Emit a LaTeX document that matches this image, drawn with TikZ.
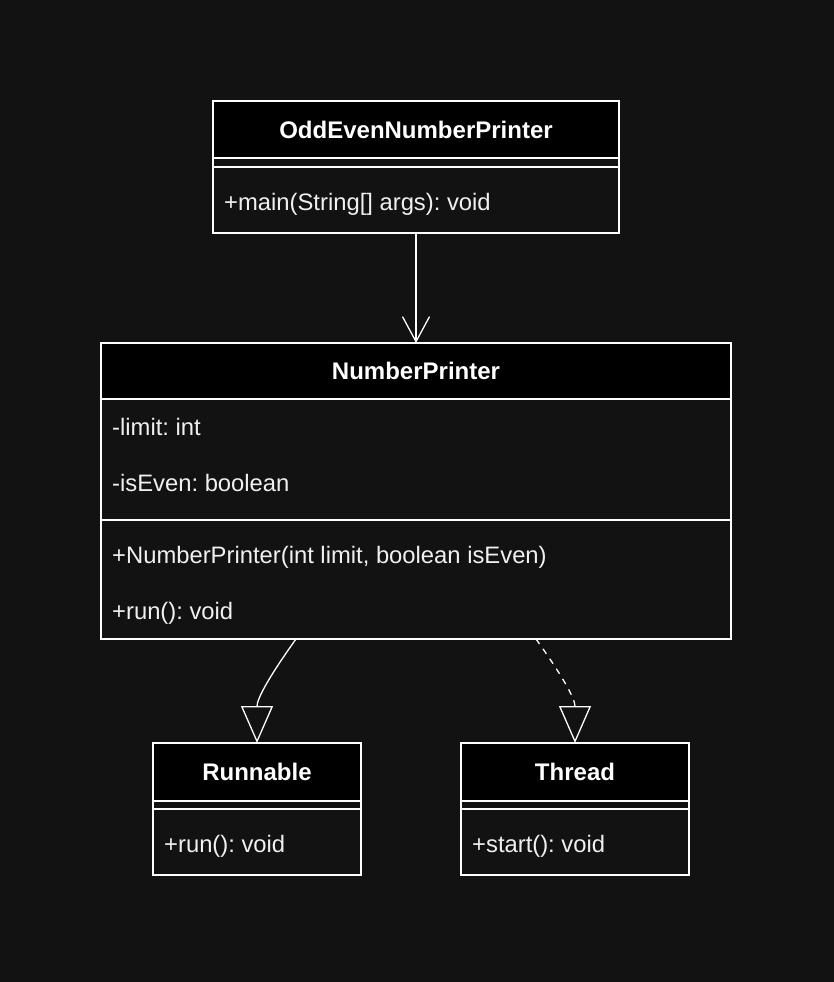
\documentclass[tikz,border=0pt]{standalone}
\usepackage{fontspec}
\setmainfont{Liberation Sans}
\usetikzlibrary{positioning, arrows.meta}
\definecolor{darkbg}{HTML}{121212}
\definecolor{softwhite}{HTML}{F0F0F0}
\tikzstyle{head} = [rectangle, draw=white, line width=1.3pt, fill=black, text=white, 
font=\fontsize{24}{28}\selectfont\bfseries, anchor=north west, inner sep=0pt, outer sep=0pt]
\tikzstyle{part} = [rectangle, draw=white, line width=1.3pt, fill=darkbg, 
anchor=north west, inner sep=0pt, outer sep=0pt]
\tikzstyle{member} = [text=softwhite, font=\fontsize{23.8}{28}\selectfont, inner sep=0pt, anchor=base west]
\tikzstyle{arrow} = [white, line width=1.3pt]

\begin{document}
\frenchspacing
\begin{tikzpicture}[x=1pt, y=-1pt]
                \fill [darkbg] (0,0) rectangle (834,982);
                % OddEvenNumberPrinter
                \node (oe) [head, minimum width=406pt, minimum height=57pt] at (213,101) {OddEvenNumberPrinter};
                \node (oeattr) [part, minimum width=406pt, minimum height=9pt] at (oe.south west) {};
                \node (oeops) [part, minimum width=406pt, minimum height=66pt] at (oeattr.south west) {};
                \node (main) [member, below right=43pt and 11pt of oeops.north west, anchor=base west] {+main(String[] args): void};
                % NumberPrinter
                \node (np) [head, minimum width=630pt, minimum height=56pt, below=110pt of oeops] {NumberPrinter};
                \node (npattr) [part, minimum width=630pt, minimum height=121pt] at (np.south west) {};
                \node (npops) [part, minimum width=630pt, minimum height=119pt] at (npattr.south west) {};
                \node (limit) [member, below right=36pt and 11pt of npattr.north west, anchor=base west] {-limit: int};
                \node (iseven) [member, below right=92pt and 11pt of npattr.north west, anchor=base west] {-isEven: boolean};
                \node (ctor) [member, below right=43pt and 11pt of npops.north west, anchor=base west] {+NumberPrinter(int limit, boolean isEven)};
                \node (nprun) [member, below right=99pt and 11pt of npops.north west, anchor=base west] {+run(): void};
                % Runnable
                \node (run) [head, minimum width=208pt, minimum height=58pt] at (153,743) {Runnable};
                \node (runattr) [part, minimum width=208pt, minimum height=8pt] at (run.south west) {};
                \node (runops) [part, minimum width=208pt, minimum height=66pt] at (runattr.south west) {};
                \node (runrun) [member, below right=43pt and 11pt of runops.north west, anchor=base west] {+run(): void};
                % Thread
                \node (thr) [head, minimum width=228pt, minimum height=58pt] at (461,743) {Thread};
                \node (thrattr) [part, minimum width=228pt, minimum height=8pt] at (thr.south west) {};
                \node (throps) [part, minimum width=228pt, minimum height=66pt] at (thrattr.south west) {};
                \node (start) [member, below right=43pt and 11pt of throps.north west, anchor=base west] {+start(): void};
                \draw [arrow, -{Straight Barb[length=25pt, width=27pt]}] (oeops) -- (np);
                \draw [arrow, -{Triangle[open, fill=darkbg, length=37pt, width=32pt]}] ([xshift=195pt]npops.south west) .. controls +(-25,35) and +(0,-45) .. (run.north);
                \draw [arrow, dash pattern=on 6pt off 6pt, -{Triangle[open, fill=darkbg, length=37pt, width=32pt]}] ([xshift=435pt]npops.south west) .. controls +(25,35) and +(0,-45) .. (thr.north);
        \end{tikzpicture}
\end{document}
